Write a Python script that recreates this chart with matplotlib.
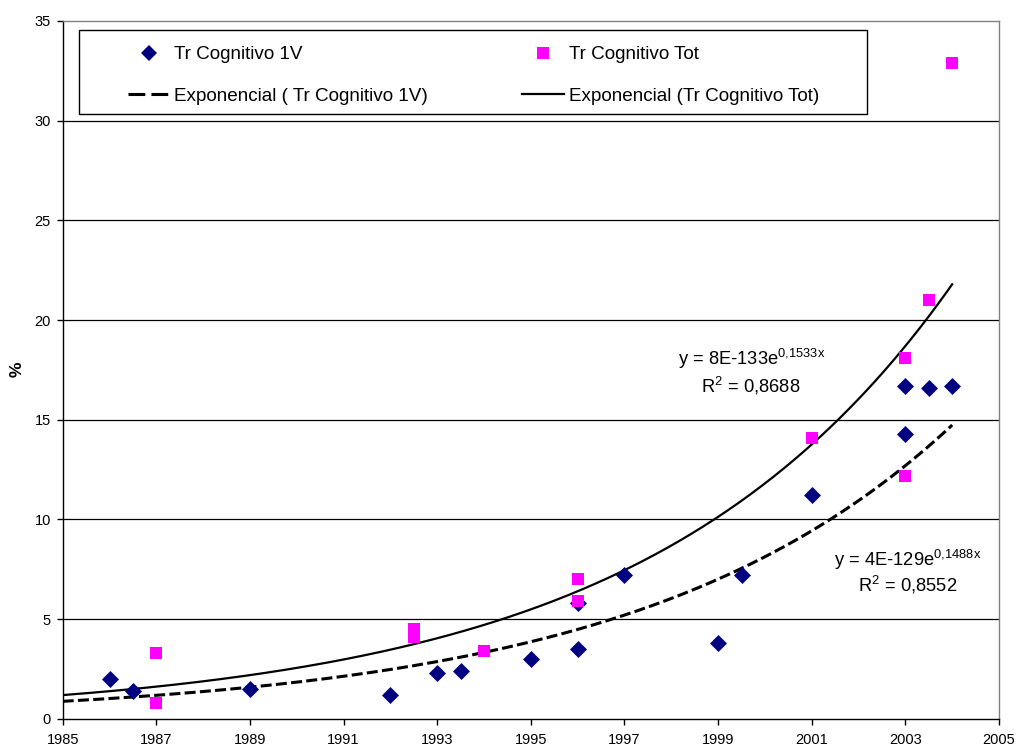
import numpy as np
import matplotlib
matplotlib.use("Agg")
import matplotlib.pyplot as plt
from matplotlib.lines import Line2D
from matplotlib.patches import Rectangle

plt.rcParams["font.family"] = ["Liberation Sans", "DejaVu Sans"]
plt.rcParams["mathtext.fontset"] = "custom"
plt.rcParams["mathtext.rm"] = "Liberation Sans"
plt.rcParams["mathtext.it"] = "Liberation Sans:italic"

# Tr Cognitivo 1V
years_1v = [1986, 1986.5, 1989, 1992, 1993, 1993.5, 1995, 1996, 1996, 1997,
            1999, 1999.5, 2001, 2003, 2003, 2003.5, 2004]
vals_1v = [2.0, 1.4, 1.5, 1.2, 2.3, 2.4, 3.0, 3.5, 5.8, 7.2,
           3.8, 7.2, 11.2, 14.3, 16.7, 16.6, 16.7]

# Tr Cognitivo Tot
years_tot = [1987, 1987, 1992.5, 1992.5, 1994, 1996, 1996, 2001, 2003, 2003,
             2003.5, 2004]
vals_tot = [3.3, 0.8, 4.5, 4.1, 3.4, 7.0, 5.9, 14.1, 18.1, 12.2, 21.0, 32.9]

eq_1v = "y = 4E-129e$^{\\mathrm{0{,}1488x}}$"
r2_1v = "R$^{\\mathrm{2}}$ = 0,8552"
eq_tot = "y = 8E-133e$^{\\mathrm{0{,}1533x}}$"
r2_tot = "R$^{\\mathrm{2}}$ = 0,8688"

W, H = 1016, 745
fig = plt.figure(figsize=(W / 100, H / 100), dpi=100)
ax = fig.add_axes([62.7 / W, 1 - 718.7 / H, (999 - 62.7) / W, (718.7 - 21) / H])


def exp_trend(xs, ys, x0, x1):
    # least squares on log(y), same as an exponential trendline
    b, ln_a = np.polyfit(np.array(xs, float) - 1985, np.log(ys), 1)
    xx = np.linspace(x0, x1, 300)
    return xx, np.exp(ln_a + b * (xx - 1985))


tx, ty = exp_trend(years_1v, vals_1v, 1985, 2004)
ax.plot(tx, ty, color="black", lw=2.2, dashes=(3.6, 1.4), zorder=3)
tx, ty = exp_trend(years_tot, vals_tot, 1985, 2004)
ax.plot(tx, ty, color="black", lw=1.6, zorder=3)

ax.scatter(years_1v, vals_1v, marker="D", s=75, color="#000080", zorder=4, linewidths=0)
ax.scatter(years_tot, vals_tot, marker="s", s=66, color="#FF00FF", zorder=5, linewidths=0)

ax.set_xlim(1985, 2005)
ax.set_ylim(0, 35)
ax.set_xticks(range(1985, 2006, 2))
ax.set_yticks(range(0, 36, 5))
for y in range(5, 35, 5):
    ax.axhline(y, color="black", lw=0.9, zorder=1)

for side in ("top", "right"):
    ax.spines[side].set_color("#808080")
    ax.spines[side].set_linewidth(1.0)
for side in ("left", "bottom"):
    ax.spines[side].set_color("black")
    ax.spines[side].set_linewidth(1.0)
ax.tick_params(axis="x", direction="out", length=4, width=1, pad=6, labelsize=10.5)
ax.tick_params(axis="y", direction="out", length=4, width=1, pad=4.5, labelsize=10.5)

fig.text(17.3 / W, 1 - 369 / H, "%", rotation=90, ha="center", va="center",
         fontsize=12.5, fontweight="bold")

ax.text(1999.72, 17.73, eq_tot, ha="center", va="baseline", fontsize=13.2)
ax.text(1999.70, 16.36, r2_tot, ha="center", va="baseline", fontsize=13.2)
ax.text(2003.06, 7.68, eq_1v, ha="center", va="baseline", fontsize=13.2)
ax.text(2003.05, 6.38, r2_1v, ha="center", va="baseline", fontsize=13.2)

# legend box
fig.patches.append(Rectangle((79 / W, 1 - 114 / H), (867 - 79) / W, (114 - 30) / H,
                             transform=fig.transFigure, facecolor="white",
                             edgecolor="black", lw=1.0, zorder=10))
handles = [
    Line2D([], [], marker="D", ms=8.5, color="#000080", ls="none", mew=0),
    Line2D([], [], color="black", lw=2.2, dashes=(5.5, 2.0)),
    Line2D([], [], marker="s", ms=8, color="#FF00FF", ls="none", mew=0),
    Line2D([], [], color="black", lw=1.6),
]
labels = ["Tr Cognitivo 1V", "Exponencial ( Tr Cognitivo 1V)",
          "Tr Cognitivo Tot", "Exponencial (Tr Cognitivo Tot)"]
leg = fig.legend(handles, labels, ncol=2, mode="expand", loc="upper left",
                 bbox_to_anchor=(128 / W, 1 - 47 / H, (819 - 128) / W, 1 / H),
                 bbox_transform=fig.transFigure, frameon=False, borderpad=0,
                 borderaxespad=0, fontsize=13.6, handlelength=2.2, handletextpad=0.25,
                 labelspacing=1.3)
leg.set_zorder(11)

fig.savefig("out.png", dpi=100)
